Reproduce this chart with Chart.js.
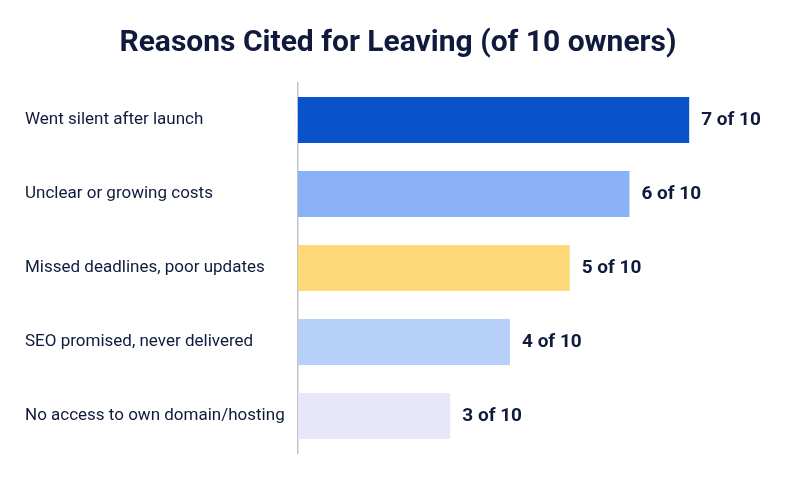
<!DOCTYPE html>
<html>
<head>
<meta charset="utf-8">
<script src="https://cdn.jsdelivr.net/npm/chart.js@4"></script>
<style>
  html, body { margin: 0; padding: 0; background: #ffffff; }
  #wrap { width: 800px; height: 480px; }
</style>
</head>
<body>
<div id="wrap"><canvas id="reasonsChart"></canvas></div>
<script>
(() => {
  'use strict'

  // Data
  const reasons = [
    'Went silent after launch',
    'Unclear or growing costs',
    'Missed deadlines, poor updates',
    'SEO promised, never delivered',
    'No access to own domain/hosting'
  ]
  const owners = [7, 6, 5, 4, 3]
  const totalOwners = 10
  const barColors = ['#0A52CC', '#8AB0F5', '#FDD97A', '#B7D0FA', '#E6E8FA']

  const navy = '#0F1A3D'
  const font = 'Roboto, "Noto Sans", sans-serif'

  // value labels at bar ends
  const valueLabels = {
    id: 'valueLabels',
    afterDatasetsDraw(chart) {
      const { ctx } = chart
      const meta = chart.getDatasetMeta(0)
      ctx.save()
      ctx.fillStyle = navy
      ctx.font = 'bold 19px ' + font
      ctx.textBaseline = 'middle'
      ctx.textAlign = 'left'
      meta.data.forEach((bar, i) => {
        ctx.fillText(owners[i] + ' of ' + totalOwners, bar.x + 12, bar.y)
      })
      ctx.restore()
    }
  }

  const ctx = document.getElementById('reasonsChart')
  new Chart(ctx, {
    type: 'bar',
    data: {
      labels: reasons,
      datasets: [{
        data: owners,
        backgroundColor: barColors,
        borderWidth: 0,
        barPercentage: 0.62,
        categoryPercentage: 1
      }]
    },
    plugins: [valueLabels],
    options: {
      indexAxis: 'y',
      responsive: true,
      maintainAspectRatio: false,
      animation: false,
      layout: {
        padding: { left: 25, right: 29, top: 0, bottom: 27 }
      },
      scales: {
        x: {
          display: false,
          min: 0.45,
          max: 8.37
        },
        y: {
          grid: { display: false },
          border: { display: true, color: '#C4C4C4', width: 1.5 },
          ticks: {
            crossAlign: 'far',
            color: navy,
            font: { family: font, size: 17 }
          },
          afterFit(axis) {
            axis.width = 273
          }
        }
      },
      plugins: {
        legend: { display: false },
        tooltip: { enabled: false },
        title: {
          display: true,
          text: 'Reasons Cited for Leaving (of 10 owners)',
          color: navy,
          font: { family: font, size: 30, weight: 'bold', lineHeight: 1.2 },
          padding: { top: 25, bottom: 22 }
        }
      }
    }
  })
})()
</script>
</body>
</html>
